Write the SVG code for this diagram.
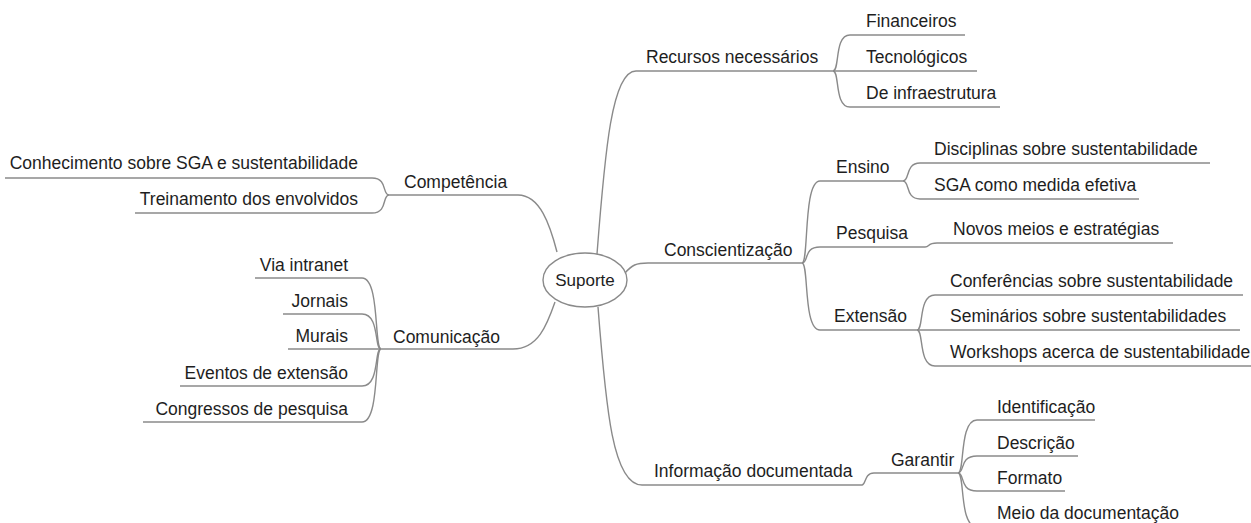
<svg xmlns="http://www.w3.org/2000/svg" width="1251" height="523" viewBox="0 0 1251 523">
<style>
text{font-family:"Liberation Sans",Arial,sans-serif;font-size:17.5px;fill:#1e1e1e}
.l{text-anchor:end}
.u,.c{stroke:#8a8a8a;stroke-width:1.4;fill:none}
</style>
<rect width="1251" height="523" fill="#ffffff"/>
<g id="connectors" class="c">
<path d="M597 254 C605 150 612 71 636 71"/>
<path d="M833 71 C840 71 834 35 850 35"/>
<path d="M833 71 C840 71 834 107 850 107"/>
<path d="M625 273 C632 265 636 263 648 263"/>
<path d="M802 263 C809 263 803 181 820 181"/>
<path d="M802 263 C809 263 803 247 820 247"/>
<path d="M802 263 C809 263 803 330 820 330"/>
<path d="M903 181 C910 181 905 163 920 163"/>
<path d="M903 181 C910 181 905 199 920 199"/>
<path d="M925 247 C930 247 927 243 937 243"/>
<path d="M917 330 C924 330 918 295 935 295"/>
<path d="M917 330 C924 330 918 366 935 366"/>
<path d="M598 307 C606 410 613 485 642 485"/>
<path d="M862 485 C866 485 864 473 874 473"/>
<path d="M958 473 C965 473 959 420 977 420"/>
<path d="M958 473 C965 473 959 456 977 456"/>
<path d="M958 473 C965 473 959 491 977 491"/>
<path d="M958 473 C965 473 959 527 977 527"/>
<path d="M518 195 C540 195 550 225 557 252"/>
<path d="M389 195 C382 195 388 178 372 178"/>
<path d="M389 195 C382 195 388 213 372 213"/>
<path d="M513 349 C538 349 547 325 555 302"/>
<path d="M381 349 C374 349 380 278 362 278"/>
<path d="M381 349 C374 349 380 314 362 314"/>
<path d="M381 349 C374 349 380 386 362 386"/>
<path d="M381 349 C374 349 380 422 362 422"/>
</g>
<g id="suporte"><ellipse cx="585" cy="280" rx="42" ry="27" fill="#fff" stroke="#8a8a8a" stroke-width="1.4"/><text x="585" y="286" text-anchor="middle" style="font-size:17px">Suporte</text></g>
<g id="recursos"><line class="u" x1="636" y1="71" x2="833" y2="71"/><text x="646" y="63">Recursos necessários</text></g>
<g id="financeiros"><line class="u" x1="850" y1="35" x2="965" y2="35"/><text x="866" y="27">Financeiros</text></g>
<g id="tecnologicos"><line class="u" x1="833" y1="71" x2="977" y2="71"/><text x="866" y="63">Tecnológicos</text></g>
<g id="infraestrutura"><line class="u" x1="850" y1="107" x2="1000" y2="107"/><text x="866" y="99">De infraestrutura</text></g>
<g id="conscientizacao"><line class="u" x1="648" y1="263" x2="802" y2="263"/><text x="664" y="256">Conscientização</text></g>
<g id="ensino"><line class="u" x1="820" y1="181" x2="903" y2="181"/><text x="836" y="173">Ensino</text></g>
<g id="disciplinas"><line class="u" x1="920" y1="163" x2="1210" y2="163"/><text x="934" y="155">Disciplinas sobre sustentabilidade</text></g>
<g id="sga"><line class="u" x1="920" y1="199" x2="1139" y2="199"/><text x="934" y="191">SGA como medida efetiva</text></g>
<g id="pesquisa"><line class="u" x1="820" y1="247" x2="925" y2="247"/><text x="836" y="239">Pesquisa</text></g>
<g id="novos"><line class="u" x1="937" y1="243" x2="1173" y2="243"/><text x="953" y="235">Novos meios e estratégias</text></g>
<g id="extensao"><line class="u" x1="820" y1="330" x2="917" y2="330"/><text x="834" y="322">Extensão</text></g>
<g id="conferencias"><line class="u" x1="935" y1="295" x2="1243" y2="295"/><text x="950" y="287">Conferências sobre sustentabilidade</text></g>
<g id="seminarios"><line class="u" x1="917" y1="330" x2="1240" y2="330"/><text x="950" y="322">Seminários sobre sustentabilidades</text></g>
<g id="workshops"><line class="u" x1="935" y1="366" x2="1251" y2="366"/><text x="950" y="358">Workshops acerca de sustentabilidade</text></g>
<g id="informacao"><line class="u" x1="642" y1="485" x2="862" y2="485"/><text x="654" y="477">Informação documentada</text></g>
<g id="garantir"><line class="u" x1="874" y1="473" x2="958" y2="473"/><text x="891" y="466">Garantir</text></g>
<g id="identificacao"><line class="u" x1="977" y1="420" x2="1095" y2="420"/><text x="997" y="413">Identificação</text></g>
<g id="descricao"><line class="u" x1="977" y1="456" x2="1078" y2="456"/><text x="997" y="449">Descrição</text></g>
<g id="formato"><line class="u" x1="977" y1="491" x2="1065" y2="491"/><text x="997" y="484">Formato</text></g>
<g id="meio"><line class="u" x1="977" y1="527" x2="1178" y2="527"/><text x="997" y="519">Meio da documentação</text></g>
<g id="competencia"><line class="u" x1="389" y1="195" x2="518" y2="195"/><text x="404" y="188">Competência</text></g>
<g id="conhecimento"><line class="u" x1="5" y1="178" x2="372" y2="178"/><text class="l" x="358" y="169">Conhecimento sobre SGA e sustentabilidade</text></g>
<g id="treinamento"><line class="u" x1="135" y1="213" x2="372" y2="213"/><text class="l" x="358" y="205">Treinamento dos envolvidos</text></g>
<g id="comunicacao"><line class="u" x1="381" y1="349" x2="513" y2="349"/><text x="393" y="343">Comunicação</text></g>
<g id="intranet"><line class="u" x1="255" y1="278" x2="362" y2="278"/><text class="l" x="348" y="271">Via intranet</text></g>
<g id="jornais"><line class="u" x1="283" y1="314" x2="362" y2="314"/><text class="l" x="348" y="307">Jornais</text></g>
<g id="murais"><line class="u" x1="288" y1="349" x2="381" y2="349"/><text class="l" x="348" y="342">Murais</text></g>
<g id="eventos"><line class="u" x1="180" y1="386" x2="362" y2="386"/><text class="l" x="348" y="379">Eventos de extensão</text></g>
<g id="congressos"><line class="u" x1="143" y1="422" x2="362" y2="422"/><text class="l" x="348" y="415">Congressos de pesquisa</text></g>
</svg>
